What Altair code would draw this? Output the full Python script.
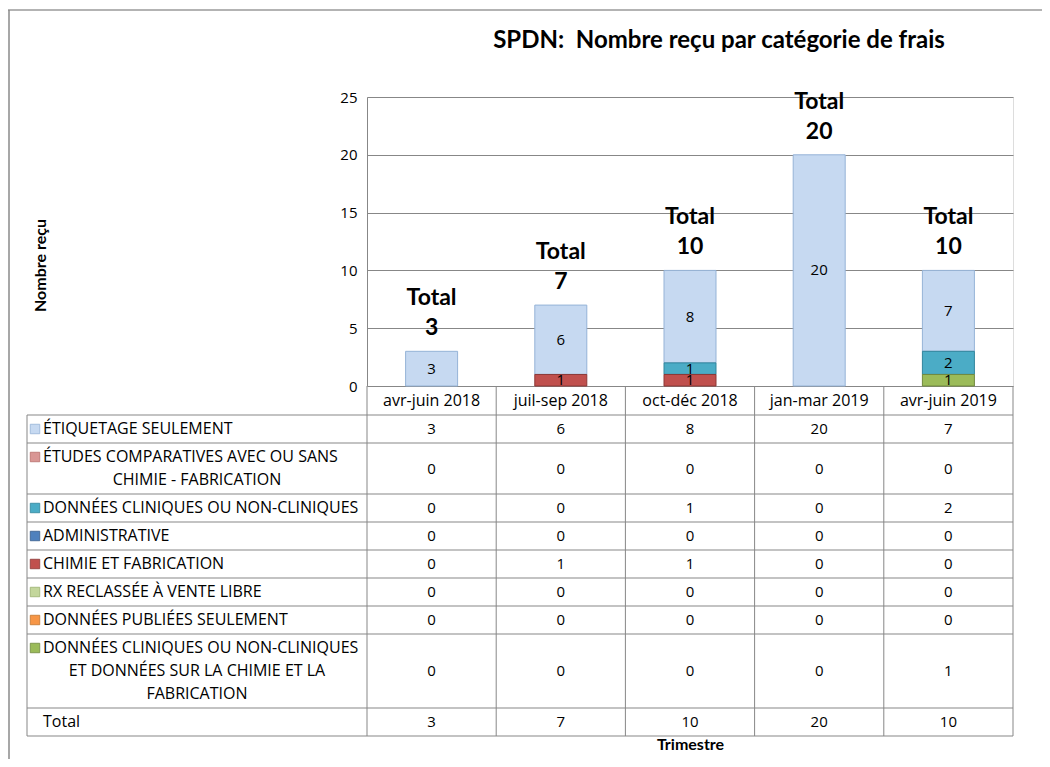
import altair as alt
import pandas as pd

# ---------------- data ----------------
quarters = ["avr-juin 2018", "juil-sep 2018", "oct-déc 2018", "jan-mar 2019", "avr-juin 2019"]

series_lines = [
    ["ÉTIQUETAGE SEULEMENT"],
    ["ÉTUDES COMPARATIVES AVEC OU SANS", "CHIMIE - FABRICATION"],
    ["DONNÉES CLINIQUES OU NON-CLINIQUES"],
    ["ADMINISTRATIVE"],
    ["CHIMIE ET FABRICATION"],
    ["RX RECLASSÉE À VENTE LIBRE"],
    ["DONNÉES PUBLIÉES SEULEMENT"],
    ["DONNÉES CLINIQUES OU NON-CLINIQUES", "ET DONNÉES SUR LA CHIMIE ET LA", "FABRICATION"],
]

etiquetage = [3, 6, 8, 20, 7]
etudes_comparatives = [0, 0, 0, 0, 0]
donnees_cliniques = [0, 0, 1, 0, 2]
administrative = [0, 0, 0, 0, 0]
chimie_fabrication = [0, 1, 1, 0, 0]
rx_reclassee = [0, 0, 0, 0, 0]
donnees_publiees = [0, 0, 0, 0, 0]
cliniques_et_chimie = [0, 0, 0, 0, 1]

series_values = [etiquetage, etudes_comparatives, donnees_cliniques, administrative,
                 chimie_fabrication, rx_reclassee, donnees_publiees, cliniques_et_chimie]

series_colors = ["#C6D9F1", "#D99694", "#4BACC6", "#4F81BD", "#C0504D", "#C3D69B", "#F79646", "#9BBB59"]
series_strokes = ["#95B3D7", "#B86E6C", "#31859C", "#385D8A", "#8C3836", "#9BB06E", "#C0762F", "#71893F"]

y_ticks = [0, 5, 10, 15, 20, 25]
total_word = "Total"
chart_title = "SPDN:\u00a0 Nombre reçu par catégorie de frais"

# ---------------- derived tables ----------------
series_names = [" ".join(l) for l in series_lines]
n_series = len(series_names)
totals = [sum(v[i] for v in series_values) for i in range(len(quarters))]

W, H = 646, 289
LABEL_LEFT = -340
HEADER_H = 29
BASE_ROW_H = 28
LINE_H = 23

bar_rows = []
for si, (name, vals) in enumerate(zip(series_names, series_values)):
    for qi, q in enumerate(quarters):
        bar_rows.append({"quarter": q, "series": name, "value": vals[qi], "order": n_series - 1 - si})
bars_df = pd.DataFrame(bar_rows)

tot_df = pd.DataFrame({"quarter": quarters, "total": totals,
                       "num": [str(t) for t in totals], "word": [total_word] * len(quarters)})

table_lines = series_lines + [[total_word]]
table_vals = series_values + [totals]
row_tops, row_bots = [], []
cur = H + HEADER_H
for lines in table_lines:
    h = BASE_ROW_H + LINE_H * (len(lines) - 1)
    row_tops.append(cur)
    row_bots.append(cur + h)
    cur += h

first_rows, cont_rows, cell_rows, marker_rows = [], [], [], []
for ri, lines in enumerate(table_lines):
    center = (row_tops[ri] + row_bots[ri]) / 2
    k = len(lines)
    for li, txt in enumerate(lines):
        yy = center + (li - (k - 1) / 2) * LINE_H
        if li == 0:
            first_rows.append({"text": txt, "y": yy})
            if ri < n_series:
                marker_rows.append({"series": series_names[ri], "y": yy})
        else:
            cont_rows.append({"text": txt, "y": yy})
    for qi, q in enumerate(quarters):
        cell_rows.append({"quarter": q, "y": center, "text": str(table_vals[ri][qi])})

first_df = pd.DataFrame(first_rows)
cont_df = pd.DataFrame(cont_rows)
cell_df = pd.DataFrame(cell_rows)
marker_df = pd.DataFrame(marker_rows)
hline_df = pd.DataFrame({"y": [H + HEADER_H] + row_bots})
vline_df = pd.DataFrame({"quarter": quarters})

FONT = "Open Sans"
BOLD_FONT = "Lato"
GRID = "#878787"

color_scale = alt.Scale(domain=series_names, range=series_colors)
stroke_scale = alt.Scale(domain=series_names, range=series_strokes)
x_scale = alt.Scale(domain=quarters, paddingInner=0, paddingOuter=0)

x_axis = alt.Axis(title="Trimestre", ticks=False, tickSize=0, domain=False, labelAngle=0,
                  labelBaseline="middle", labelPadding=14, labelFontSize=16, labelFont=FONT,
                  labelColor="#000000", titleFont=BOLD_FONT, titleFontSize=16, titleFontWeight="bold",
                  titleColor="#000000", titleY=358, titleBaseline="middle", grid=False)
y_axis = alt.Axis(title="Nombre reçu", values=y_ticks, grid=True, gridColor=GRID, gridWidth=1,
                  domainColor=GRID, domainWidth=1, ticks=False, tickSize=0, labelPadding=10,
                  labelFontSize=15, labelFont=FONT, labelColor="#000000",
                  titleFont=BOLD_FONT, titleFontSize=16, titleFontWeight="bold", titleColor="#000000",
                  titleX=-327, titleY=168, titleAngle=-90, titleAlign="center", titleBaseline="middle")

X = lambda **kw: alt.X("quarter:N", scale=x_scale, axis=x_axis, **kw)

stacked = (alt.Chart(bars_df)
           .transform_stack(stack="value", as_=["y0", "y1"], groupby=["quarter"],
                            sort=[alt.SortField("order", order="ascending")])
           .transform_filter("datum.value > 0")
           .transform_calculate(ymid="(datum.y0 + datum.y1) / 2"))

bars = stacked.mark_bar(size=52, strokeWidth=1).encode(
    x=X(),
    y=alt.Y("y1:Q", scale=alt.Scale(domain=[0, 25], nice=False), axis=y_axis),
    y2="y0:Q",
    color=alt.Color("series:N", scale=color_scale, legend=None),
    stroke=alt.Stroke("series:N", scale=stroke_scale, legend=None),
)

seg_text = stacked.mark_text(font=FONT, fontSize=15, color="#000000", baseline="middle").encode(
    x=X(), y=alt.Y("ymid:Q"), text="value:Q",
)

tot_num = alt.Chart(tot_df).mark_text(font=BOLD_FONT, fontSize=23, fontWeight="bold", color="#000000",
                                      baseline="middle", dy=-23).encode(
    x=X(), y=alt.Y("total:Q"), text="num:N",
)
tot_word = alt.Chart(tot_df).mark_text(font=BOLD_FONT, fontSize=23, fontWeight="bold", color="#000000",
                                       baseline="middle", dy=-53).encode(
    x=X(), y=alt.Y("total:Q"), text="word:N",
)

# ---- data table ----
hlines = alt.Chart(hline_df).mark_rule(color=GRID, strokeWidth=1).encode(
    x=alt.value(LABEL_LEFT), x2=alt.value(W),
    y=alt.Y("y:Q", scale=None, axis=None),
)
vlines = alt.Chart(vline_df).mark_rule(color=GRID, strokeWidth=1).encode(
    x=X(bandPosition=0),
    y=alt.value(H), y2=alt.value(row_bots[-1]),
)
right_edge = alt.Chart(vline_df.head(1)).mark_rule(color=GRID, strokeWidth=1).encode(
    x=alt.value(W), y=alt.value(H), y2=alt.value(row_bots[-1]),
)
left_edge = alt.Chart(vline_df.head(1)).mark_rule(color=GRID, strokeWidth=1).encode(
    x=alt.value(LABEL_LEFT), y=alt.value(H + HEADER_H), y2=alt.value(row_bots[-1]),
)

first_text = alt.Chart(first_df).mark_text(font=FONT, fontSize=16, color="#000000", align="left",
                                           baseline="middle").encode(
    x=alt.value(-324), y=alt.Y("y:Q", scale=None, axis=None), text="text:N")
cont_text = alt.Chart(cont_df).mark_text(font=FONT, fontSize=16, color="#000000", align="center",
                                         baseline="middle").encode(
    x=alt.value(-170), y=alt.Y("y:Q", scale=None, axis=None), text="text:N")
markers = alt.Chart(marker_df).mark_square(size=90, filled=True, opacity=1, strokeWidth=0.8).encode(
    x=alt.value(-332), y=alt.Y("y:Q", scale=None, axis=None),
    color=alt.Color("series:N", scale=color_scale, legend=None),
    stroke=alt.Stroke("series:N", scale=stroke_scale, legend=None),
)
cells = alt.Chart(cell_df).mark_text(font=FONT, fontSize=15, color="#000000", baseline="middle").encode(
    x=X(), y=alt.Y("y:Q", scale=None, axis=None), text="text:N")

# chart area border (top and left)
frame_top = alt.Chart(vline_df.head(1)).mark_rule(color="#B3B3B3", strokeWidth=2).encode(
    x=alt.value(-359), x2=alt.value(W + 40), y=alt.value(-87))
frame_left = alt.Chart(vline_df.head(1)).mark_rule(color="#8A8A8A", strokeWidth=1.5).encode(
    x=alt.value(-358), y=alt.value(-87), y2=alt.value(H + 400))

chart = alt.layer(
    frame_top, frame_left,
    bars, seg_text, tot_word, tot_num,
    hlines, vlines, right_edge, left_edge, first_text, cont_text, markers, cells,
).properties(
    width=W, height=H,
    padding={"left": 359, "top": 89, "right": 29, "bottom": 373},
    autosize=alt.AutoSizeParams(type="none"),
    title=alt.TitleParams(chart_title, font=BOLD_FONT, fontSize=24,
                          fontWeight="bold", color="#000000", anchor="middle", dx=29, offset=0,
                          dy=56, baseline="middle", frame="group"),
).configure_view(stroke=None).configure(background="#FFFFFF")

chart.save("out.html", embed_options={"renderer": "svg", "actions": False})
